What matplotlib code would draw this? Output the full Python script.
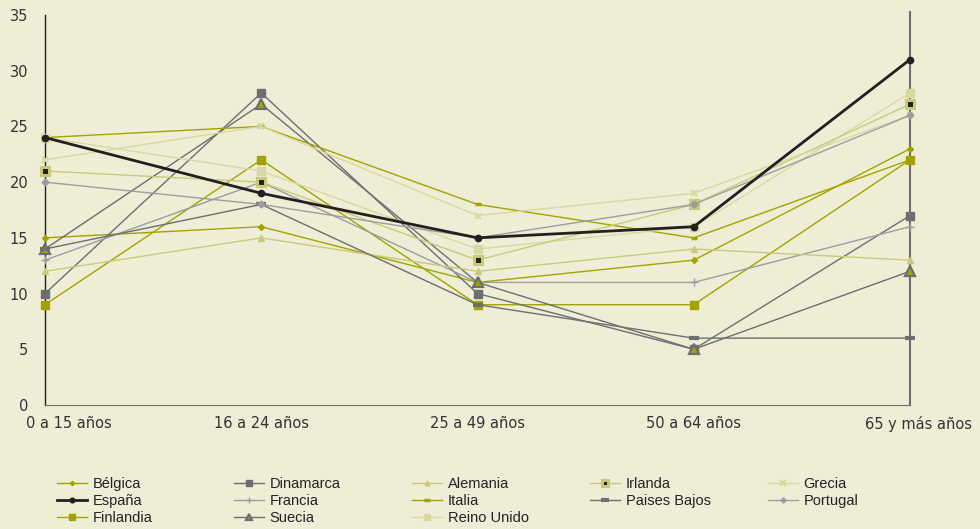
import matplotlib
matplotlib.use('Agg')
import matplotlib.pyplot as plt
import matplotlib.transforms as mtransforms

# categories on the x axis
categories = ['0 a 15 años', '16 a 24 años', '25 a 49 años', '50 a 64 años', '65 y más años']

# series values
belgica = [15, 16, 11, 13, 23]
dinamarca = [10, 28, 10, 5, 17]
alemania = [12, 15, 12, 14, 13]
irlanda = [21, 20, 13, 18, 27]
grecia = [22, 25, 17, 19, 26]
espana = [24, 19, 15, 16, 31]
francia = [13, 20, 11, 11, 16]
italia = [24, 25, 18, 15, 22]
paises_bajos = [14, 18, 9, 6, 6]
portugal = [20, 18, 15, 18, 26]
finlandia = [9, 22, 9, 9, 22]
suecia = [14, 27, 11, 5, 12]
reino_unido = [24, 21, 14, 16, 28]

yticks = [0, 5, 10, 15, 20, 25, 30, 35]

BG = '#EEEED6'
OLIVE = '#A3A300'
LOLIVE = '#C9C97A'
VLIGHT = '#D8D8A0'
DGRAY = '#6D6E71'
MGRAY = '#9C9DA1'
BLACK = '#231F20'

# (label, values, color, marker, markersize, lw, extra)
series = [
  ('Bélgica', belgica, OLIVE, 'D', 3, 1.0, {}),
  ('España', espana, BLACK, 'o', 4.5, 2.0, {}),
  ('Finlandia', finlandia, OLIVE, 's', 5.5, 1.0, {}),
  ('Dinamarca', dinamarca, DGRAY, 's', 5.5, 1.0, {}),
  ('Francia', francia, MGRAY, '+', 6, 1.0, {}),
  ('Suecia', suecia, DGRAY, '^', 6.5, 1.0, {'markerfacecolor': OLIVE, 'markeredgecolor': DGRAY, 'markeredgewidth': 1.6}),
  ('Alemania', alemania, LOLIVE, '^', 4.5, 1.0, {}),
  ('Italia', italia, OLIVE, '_', 5, 1.0, {'markeredgewidth': 2.5}),
  ('Reino Unido', reino_unido, VLIGHT, 's', 6, 1.0, {}),
  ('Irlanda', irlanda, LOLIVE, 's', 5.5, 1.0, {'markerfacecolor': BLACK, 'markeredgecolor': LOLIVE, 'markeredgewidth': 2.2}),
  ('Paises Bajos', paises_bajos, DGRAY, '_', 7, 1.0, {'markeredgewidth': 3}),
  ('Grecia', grecia, VLIGHT, 'x', 5, 1.0, {'markeredgewidth': 1.5}),
  ('Portugal', portugal, MGRAY, 'D', 3.5, 1.0, {}),
]

fig = plt.figure(figsize=(9.8, 5.29), dpi=100, facecolor=BG)
ax = fig.add_axes([45 / 980, 1 - 405 / 529, 865 / 980, 390 / 529])
ax.set_facecolor(BG)

x = list(range(len(categories)))
handles = []
for label, vals, col, mk, ms, lw, extra in series:
  z = 5 if label == 'España' else 3
  h, = ax.plot(x, vals, color=col, marker=mk, markersize=ms, linewidth=lw,
               label=label, zorder=z, clip_on=False, **extra)
  handles.append(h)

ax.set_xlim(0, 4)
ax.set_ylim(0, 35)
ax.set_yticks(yticks)
ax.set_xticks(x, labels=categories)
ax.tick_params(axis='both', length=0, labelsize=10.5, colors='#333333')
ax.tick_params(axis='y', pad=12)
ax.tick_params(axis='x', pad=8)

# nudge first and last category labels like the original
xlabels = ax.get_xticklabels()
xlabels[0].set_transform(xlabels[0].get_transform() + mtransforms.ScaledTranslation(24 / 100, 0, fig.dpi_scale_trans))
xlabels[-1].set_transform(xlabels[-1].get_transform() + mtransforms.ScaledTranslation(8 / 100, 0, fig.dpi_scale_trans))

ax.spines['top'].set_visible(False)
ax.spines['left'].set_color(BLACK)
ax.spines['left'].set_linewidth(1.0)
ax.spines['bottom'].set_color(DGRAY)
ax.spines['right'].set_color(DGRAY)
ax.spines['right'].set_linewidth(1.5)
ax.spines['right'].set_bounds(0, 35.3)
ax.grid(False)

# legend: 5 columns placed by hand, same spacing as the original
col_x = [57, 234, 412, 590, 768]
col_items = [[0, 1, 2], [3, 4, 5], [6, 7, 8], [9, 10], [11, 12]]
legend_font = {'family': ['Liberation Sans Narrow', 'DejaVu Sans Condensed', 'Liberation Sans'], 'size': 10.5}
for cx, idx in zip(col_x, col_items):
  leg = fig.legend(handles=[handles[i] for i in idx], loc='upper left',
                   bbox_to_anchor=(cx / 980, 1 - 477 / 529), frameon=False,
                   handlelength=2.05, handletextpad=0.4, labelspacing=0.22,
                   borderpad=0, borderaxespad=0, markerscale=0.75, prop=legend_font)
  for t in leg.get_texts():
    t.set_color('#222222')

fig.savefig('out.png', dpi=100, facecolor=BG)
